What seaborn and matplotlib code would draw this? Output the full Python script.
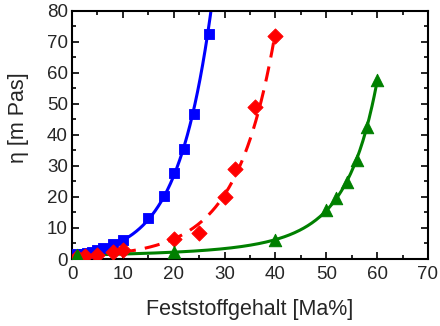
import numpy as np
import pandas as pd
import matplotlib
matplotlib.use("Agg")
import matplotlib.pyplot as plt
import seaborn as sns
from matplotlib.ticker import MultipleLocator

sns.set_theme(style="ticks")
plt.rcParams['font.family'] = ['Liberation Sans', 'DejaVu Sans']

# data
blue_x = [1, 2, 3, 4, 5, 6, 8, 10, 15, 18, 20, 22, 24, 27]
blue_y = [1.5, 1.7, 2.0, 2.4, 3.0, 3.4, 4.8, 6.2, 13.3, 20.3, 27.7, 35.4, 46.6, 72.3]
red_x = [1, 2.5, 5, 8, 10, 20, 25, 30, 32, 36, 40]
red_y = [0.8, 1.0, 1.3, 2.1, 2.8, 6.4, 8.3, 19.8, 29.0, 48.9, 71.7]
green_x = [1, 20, 40, 50, 52, 54, 56, 58, 60]
green_y = [1.2, 2.2, 6.2, 15.8, 19.6, 24.7, 32.0, 42.5, 57.6]

fig = plt.figure(figsize=(4.4, 3.26), dpi=100)
ax = fig.add_axes([72/440, 1-259/326, (428-72)/440, (259-10.5)/326])

def fit_curve(x, y, deg, xmax):
    c = np.polyfit(np.array(x, float), np.log(np.array(y, float)), deg)
    xs = np.linspace(0, xmax, 300)
    return xs, np.exp(np.polyval(c, xs))

bx, by = fit_curve(blue_x, blue_y, 1, 30)
rx, ry = fit_curve(red_x, red_y, 2, 40)
gx, gy = fit_curve(green_x, green_y, 3, 60)

lw = 2.2
sns.lineplot(x=bx, y=by, ax=ax, color='#0000ff', lw=lw)
sns.lineplot(x=rx, y=ry, ax=ax, color='#ff0000', lw=lw, linestyle=(0, (5, 3)))
sns.lineplot(x=gx, y=gy, ax=ax, color='#008000', lw=lw)

sns.scatterplot(x=blue_x, y=blue_y, ax=ax, marker='s', s=60, color='#0000ff', edgecolor='#0000ff', zorder=5)
sns.scatterplot(x=red_x, y=red_y, ax=ax, marker='D', s=60, color='#ff0000', edgecolor='#ff0000', zorder=5)
sns.scatterplot(x=green_x, y=green_y, ax=ax, marker='^', s=80, color='#008000', edgecolor='#008000', zorder=5)

ax.set_xlim(0, 70)
ax.set_ylim(0, 80)
ax.xaxis.set_major_locator(MultipleLocator(10))
ax.xaxis.set_minor_locator(MultipleLocator(5))
ax.yaxis.set_major_locator(MultipleLocator(10))
ax.yaxis.set_minor_locator(MultipleLocator(5))
ax.tick_params(which='both', direction='in', top=True, right=True, color='black',
               labelsize=13.5, width=1.2)
ax.tick_params(axis='x', pad=5)
ax.tick_params(axis='y', pad=3)
ax.tick_params(which='major', length=5)
ax.tick_params(which='minor', length=3)
for s in ax.spines.values():
    s.set_linewidth(1.5)
    s.set_color('black')
    s.set_visible(True)
ax.set_xlabel('Feststoffgehalt [Ma%]', fontsize=15.5)
ax.set_ylabel('η [m Pas]', fontsize=15.5)
ax.xaxis.set_label_coords(0.5, -0.16)
ax.yaxis.set_label_coords(-0.12, 0.57)

fig.savefig('out.png', dpi=100)
